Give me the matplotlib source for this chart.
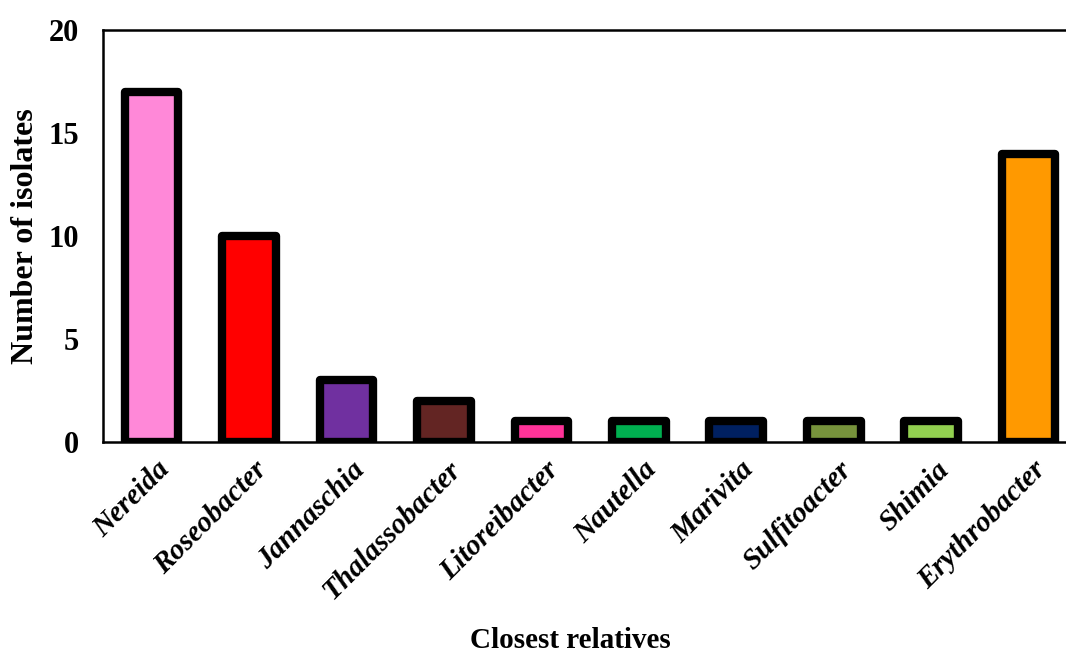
import matplotlib.pyplot as plt
from matplotlib import transforms

genera = ['Nereida', 'Roseobacter', 'Jannaschia', 'Thalassobacter', 'Litoreibacter',
          'Nautella', 'Marivita', 'Sulfitoacter', 'Shimia', 'Erythrobacter']
isolates = [17, 10, 3, 2, 1, 1, 1, 1, 1, 14]
colors = ['#FF88D8', '#FF0000', '#7030A0', '#632523', '#FF3399',
          '#00B050', '#002060', '#77933C', '#92D050', '#FF9900']

plt.rcParams['font.family'] = 'Liberation Serif'
plt.rcParams['font.weight'] = 'bold'

fig = plt.figure(figsize=(10.66, 6.53), dpi=100)
ax = fig.add_axes([0.0966, 0.323, 0.914, 0.631])

x = range(len(genera))
ax.bar(x, isolates, width=0.55, color=colors, edgecolor='black', linewidth=6,
       joinstyle='round', zorder=3)

ax.set_xlim(-0.5, len(genera) - 0.5)
ax.set_ylim(0, 20)
ax.set_yticks([0, 5, 10, 15, 20])
ax.tick_params(axis='y', length=0, pad=17, labelsize=22)
ax.tick_params(axis='x', length=0, pad=10)
ax.set_xticks(list(x))
ax.set_xticklabels(genera, rotation=45, ha='right', rotation_mode='anchor',
                   fontsize=21, style='italic', fontweight='bold')
# labels sit a little right of bar centres in the original
offset = transforms.ScaledTranslation(0.04, 0, fig.dpi_scale_trans)
for lbl in ax.get_xticklabels():
    lbl.set_transform(lbl.get_transform() + offset)

for s in ax.spines.values():
    s.set_linewidth(1.8)

ax.set_ylabel('Number of isolates', fontsize=23, fontweight='bold', labelpad=6)
fig.text(0.535, 0.008, 'Closest relatives', ha='center', fontsize=21, fontweight='bold')

fig.savefig('out.png', dpi=100)
